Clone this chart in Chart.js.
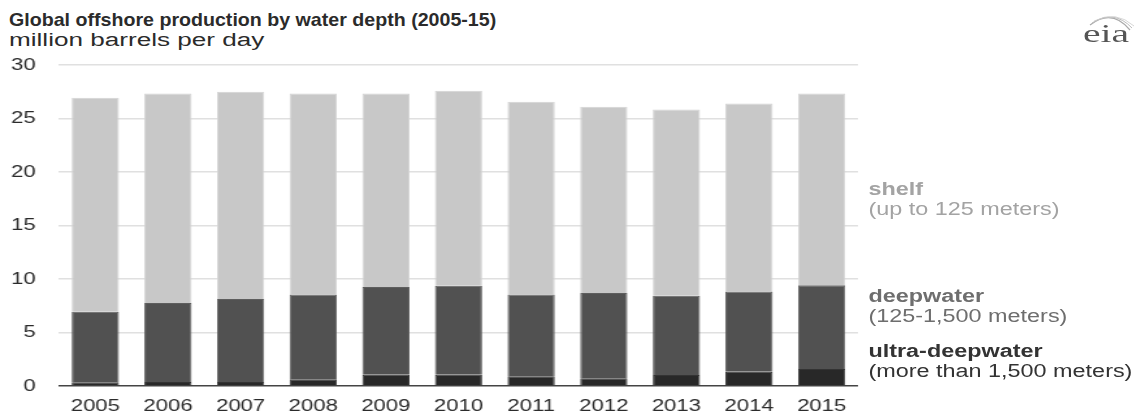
<!DOCTYPE html>
<html>
<head>
<meta charset="utf-8">
<script src="https://cdn.jsdelivr.net/npm/chart.js@4.4.1/dist/chart.umd.min.js"></script>
<style>
  html, body { margin: 0; padding: 0; background: #fff; overflow: hidden; }
  #wrap { position: absolute; left: 0; top: 0; width: 880px; height: 417px; transform: scaleX(1.3); transform-origin: 0 0; }
  #c { position: absolute; left: 0; top: 0; }
  .lg { position: absolute; left: 668px; font-family: 'Liberation Sans', Arial, sans-serif; font-size: 18px; line-height: 20px; white-space: nowrap; }
  .lg b { font-weight: bold; }
  .hd { position: absolute; font-family: 'Liberation Sans', Arial, sans-serif; color: #2b2b2b; white-space: nowrap; transform-origin: 0 0; }
  #title { left: 9px; top: 9px; font-size: 18.6px; line-height: 22px; font-weight: bold; transform: scaleX(1.055); }
  #subtitle { left: 9px; top: 30px; font-size: 18px; line-height: 20px; transform: scaleX(1.45); }
  #logo { position: absolute; left: 1078px; top: 6px; }
</style>
</head>
<body>
<div id="title" class="hd">Global offshore production by water depth (2005-15)</div>
<div id="subtitle" class="hd">million barrels per day</div>
<div id="wrap">
  <canvas id="c" width="880" height="417" style="width:880px;height:417px"></canvas>
  <div class="lg" style="top:179px;color:#a3a3a3"><b>shelf</b><br>(up to 125 meters)</div>
  <div class="lg" style="top:286px;color:#6e6e6e"><b>deepwater</b><br>(125-1,500 meters)</div>
  <div class="lg" style="top:341px;color:#333"><b>ultra-deepwater</b><br>(more than 1,500 meters)</div>
</div>
<svg id="logo" width="64" height="42" viewBox="0 0 64 42">
  <path d="M12 19 Q34 2 52 24" fill="none" stroke="#aaa" stroke-width="1.2"/>
  <path d="M14 17 Q36 3 54 22" fill="none" stroke="#bbb" stroke-width="1"/>
  <path d="M16 15 Q38 4 56 20" fill="none" stroke="#ccc" stroke-width="0.8"/>
  <text x="5" y="36" font-family="Liberation Serif, serif" font-size="26" fill="#555" textLength="46" lengthAdjust="spacingAndGlyphs">eia</text>
</svg>
<script>
const years = ['2005','2006','2007','2008','2009','2010','2011','2012','2013','2014','2015'];
const ultraDeepwater = [0.35, 0.38, 0.38, 0.62, 1.05, 1.05, 0.90, 0.72, 1.02, 1.33, 1.60];
const deepwater = [6.59, 7.37, 7.75, 7.94, 8.20, 8.33, 7.66, 7.97, 7.42, 7.51, 7.81];
const shelf = [20.00, 19.59, 19.37, 18.78, 18.09, 18.22, 18.00, 17.41, 17.40, 17.56, 17.93];
const yTicks = [0, 5, 10, 15, 20, 25, 30];

Chart.defaults.font.family = "'Liberation Sans', Arial, sans-serif";
Chart.defaults.color = '#333';

new Chart(document.getElementById('c'), {
  type: 'bar',
  data: {
    labels: years,
    datasets: [
      { label: 'ultra-deepwater', data: ultraDeepwater, backgroundColor: '#282828', borderColor: '#333333', borderWidth: 1 },
      { label: 'deepwater', data: deepwater, backgroundColor: '#515151', borderColor: '#5e5e5e', borderWidth: 1 },
      { label: 'shelf', data: shelf, backgroundColor: '#c8c8c8', borderColor: '#d4d4d4', borderWidth: 1 }
    ]
  },
  options: {
    responsive: false,
    devicePixelRatio: 1,
    animation: false,
    layout: { padding: { left: 6, right: 220, top: 65, bottom: 0 } },
    datasets: { bar: { categoryPercentage: 1, barPercentage: 0.65 } },
    plugins: {
      legend: { display: false },
      tooltip: { enabled: false },
      title: { display: false },
      subtitle: { display: false }
    },
    scales: {
      x: {
        stacked: true,
        grid: { display: false, drawTicks: false },
        border: { display: false },
        ticks: { color: '#2b2b2b', font: { size: 17 }, padding: 10, maxRotation: 0 },
        afterFit: (s) => { s.height = 31; }
      },
      y: {
        stacked: true,
        min: 0, max: 30,
        afterBuildTicks: (s) => { s.ticks = yTicks.map(v => ({ value: v })); },
        grid: {
          drawTicks: false,
          color: (ctx) => ctx.tick && ctx.tick.value === 0 ? '#444' : '#e0e0e0',
          lineWidth: 1.5
        },
        border: { display: false },
        ticks: { color: '#2b2b2b', font: { size: 17 }, padding: 18 },
        afterFit: (s) => { s.width = 39.4; }
      }
    }
  }
});
</script>
</body>
</html>
